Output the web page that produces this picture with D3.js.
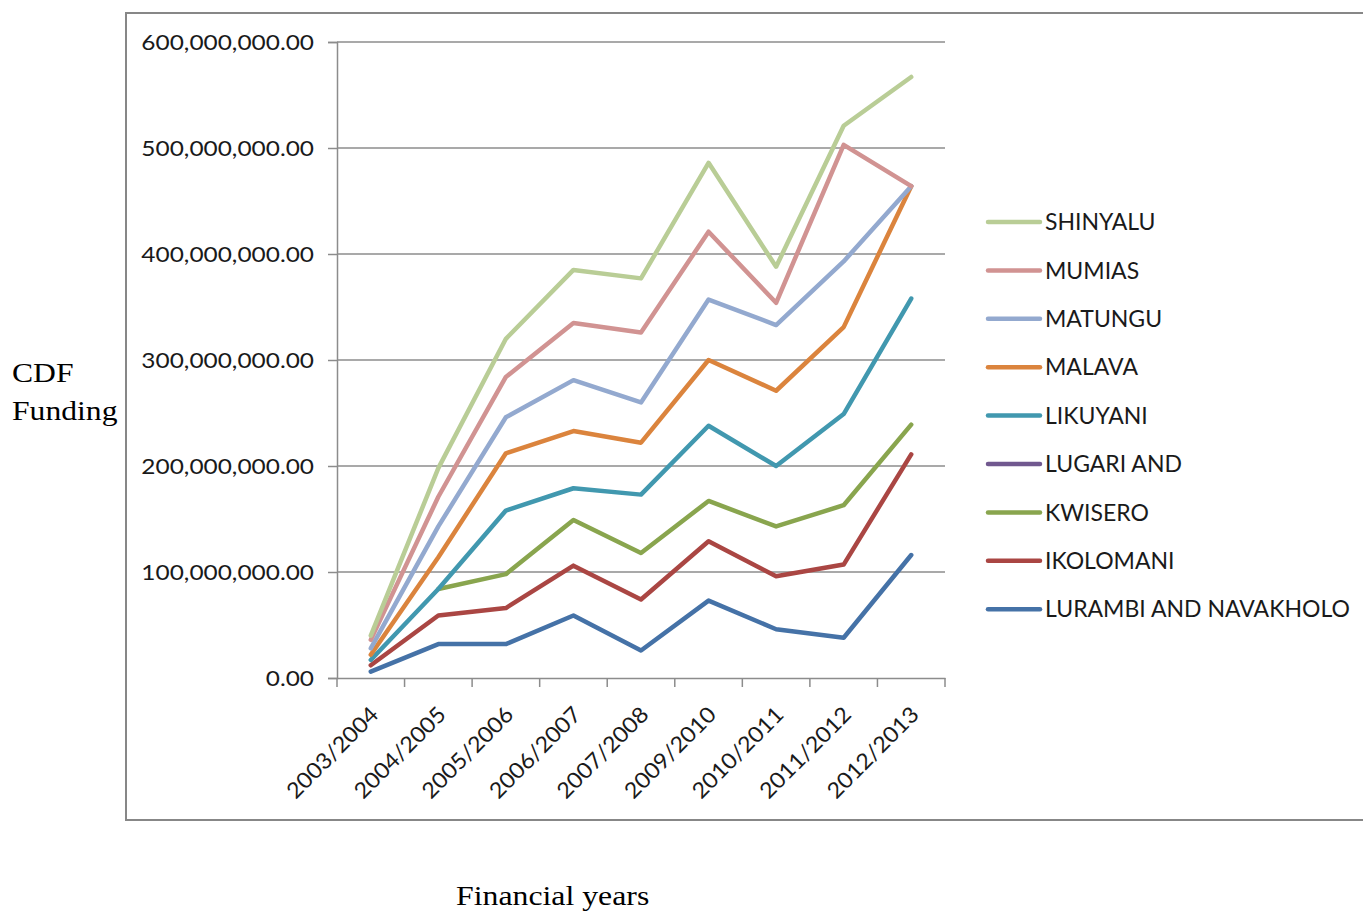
<!DOCTYPE html>
<html>
<head>
<meta charset="utf-8">
<script src="https://cdn.jsdelivr.net/npm/d3@7"></script>
<style>
  body { margin: 0; background: #fff; }
  svg { display: block; }
</style>
</head>
<body>
<div id="chart"><svg width="1363" height="911"></svg></div>
<script>
const years = ["2003/2004", "2004/2005", "2005/2006", "2006/2007", "2007/2008",
               "2009/2010", "2010/2011", "2011/2012", "2012/2013"];

// values as plotted (millions)
const lurambi   = [6, 32, 32, 59, 26, 73, 46, 38, 116];
const ikolomani = [12, 59, 66, 106, 74, 129, 96, 107, 211];
const kwisero   = [null, 84, 98, 149, 118, 167, 143, 163, 239];
const lugari    = [null, null, null, null, null, null, null, null, null];
const likuyani  = [17, 84, 158, 179, 173, 238, 200, 249, 358];
const malava    = [22, 114, 212, 233, 222, 300, 271, 331, 464];
const matungu   = [28, 143, 246, 281, 260, 357, 333, 393, 464];
const mumias    = [36, 171, 284, 335, 326, 421, 354, 503, 464];
const shinyalu  = [40, 198, 320, 385, 377, 486, 388, 521, 567];

const yTicks = [0, 100, 200, 300, 400, 500, 600];

const series = [
  {name: "LURAMBI AND NAVAKHOLO", values: lurambi, color: "#4572A7"},
  {name: "IKOLOMANI", values: ikolomani, color: "#AA4643"},
  {name: "KWISERO", values: kwisero, color: "#89A54E"},
  {name: "LUGARI AND", values: lugari, color: "#71588F"},
  {name: "LIKUYANI", values: likuyani, color: "#4198AF"},
  {name: "MALAVA", values: malava, color: "#DB843D"},
  {name: "MATUNGU", values: matungu, color: "#93A9CF"},
  {name: "MUMIAS", values: mumias, color: "#D19392"},
  {name: "SHINYALU", values: shinyalu, color: "#B9CD96"}
];

// widen text a little, the source fonts are broader than ours
function widen(sel, k) {
  sel.each(function() {
    const w = this.getComputedTextLength();
    d3.select(this).attr("textLength", w * k).attr("lengthAdjust", "spacingAndGlyphs");
  });
}

function drawChart() {
  const svg = d3.select("#chart svg");
  const plot = {left: 337, right: 945, top: 42, bottom: 678};
  const sans = "Lato, 'Open Sans', sans-serif";
  const serif = "'Liberation Serif', 'Times New Roman', serif";

  // outer chart border
  svg.append("rect")
    .attr("x", 126).attr("y", 13)
    .attr("width", 1300).attr("height", 807)
    .attr("fill", "none")
    .attr("stroke", "#878787")
    .attr("stroke-width", 2);

  const x = d3.scaleBand()
    .domain(years)
    .range([plot.left, plot.right]);

  const y = d3.scaleLinear()
    .domain([0, 600])
    .range([plot.bottom, plot.top]);

  const grid = "#8c8c8c";
  const fmt = v => d3.format(",.2f")(v * 1e6);

  // gridlines + y axis
  const yAxis = svg.append("g")
    .attr("transform", `translate(${plot.left},0)`)
    .call(d3.axisLeft(y).tickValues(yTicks).tickSize(9).tickPadding(14).tickFormat(fmt));
  yAxis.select(".domain").attr("stroke", grid).attr("stroke-width", 1.5);
  yAxis.selectAll(".tick line").attr("stroke", grid).attr("stroke-width", 1.5);
  yAxis.selectAll(".tick text")
    .attr("fill", "#1a1a1a")
    .style("font-family", sans)
    .style("font-size", "22px")
    .call(widen, 1.11);

  svg.append("g")
    .selectAll("line")
    .data(yTicks.filter(d => d > 0))
    .join("line")
    .attr("x1", plot.left).attr("x2", plot.right)
    .attr("y1", d => y(d)).attr("y2", d => y(d))
    .attr("stroke", grid).attr("stroke-width", 1.5);

  // x axis
  const xAxis = svg.append("g")
    .attr("transform", `translate(0,${plot.bottom})`)
    .call(d3.axisBottom(x).tickSize(0).tickFormat(""));
  xAxis.select(".domain").attr("stroke", grid).attr("stroke-width", 1.5);

  const bounds = years.map(d => x(d)).concat([plot.right]);
  svg.append("g")
    .selectAll("line")
    .data(bounds)
    .join("line")
    .attr("x1", d => d).attr("x2", d => d)
    .attr("y1", plot.bottom).attr("y2", plot.bottom + 9)
    .attr("stroke", grid).attr("stroke-width", 1.5);

  svg.append("g")
    .selectAll("text")
    .data(years)
    .join("text")
    .attr("transform", d => `translate(${x(d) + x.bandwidth() / 2 + 9},${plot.bottom + 38}) rotate(-45)`)
    .attr("text-anchor", "end")
    .attr("fill", "#1a1a1a")
    .style("font-family", sans)
    .style("font-size", "22px")
    .text(d => d)
    .call(widen, 1.06);

  // lines
  const line = d3.line()
    .defined(d => d != null)
    .x((d, i) => x(years[i]) + x.bandwidth() / 2)
    .y(d => y(d));

  svg.append("g")
    .selectAll("path")
    .data(series)
    .join("path")
    .attr("d", d => line(d.values))
    .attr("fill", "none")
    .attr("stroke", d => d.color)
    .attr("stroke-width", 4.5)
    .attr("stroke-linejoin", "round")
    .attr("stroke-linecap", "round");

  // legend
  const legend = svg.append("g")
    .selectAll("g")
    .data(series.slice().reverse())
    .join("g")
    .attr("transform", (d, i) => `translate(988,${222 + i * 48.4})`);

  legend.append("line")
    .attr("x1", 0).attr("x2", 52)
    .attr("stroke", d => d.color)
    .attr("stroke-width", 4.5)
    .attr("stroke-linecap", "round");

  legend.append("text")
    .attr("x", 57)
    .attr("dy", "0.36em")
    .attr("fill", "#1a1a1a")
    .style("font-family", sans)
    .style("font-size", "23px")
    .text(d => d.name);

  // axis titles
  const ytitle = svg.append("text")
    .attr("x", 12).attr("y", 382)
    .style("font-family", serif)
    .style("font-size", "28px")
    .attr("fill", "#000");
  ytitle.append("tspan").attr("x", 12).text("CDF");
  ytitle.append("tspan").attr("x", 12).attr("dy", 38).text("Funding");
  ytitle.selectAll("tspan").call(widen, 1.13);

  svg.append("text")
    .attr("x", 456).attr("y", 905)
    .style("font-family", serif)
    .style("font-size", "28px")
    .attr("fill", "#000")
    .text("Financial years")
    .call(widen, 1.135);
}

document.addEventListener('DOMContentLoaded', drawChart);
</script>
</body>
</html>
